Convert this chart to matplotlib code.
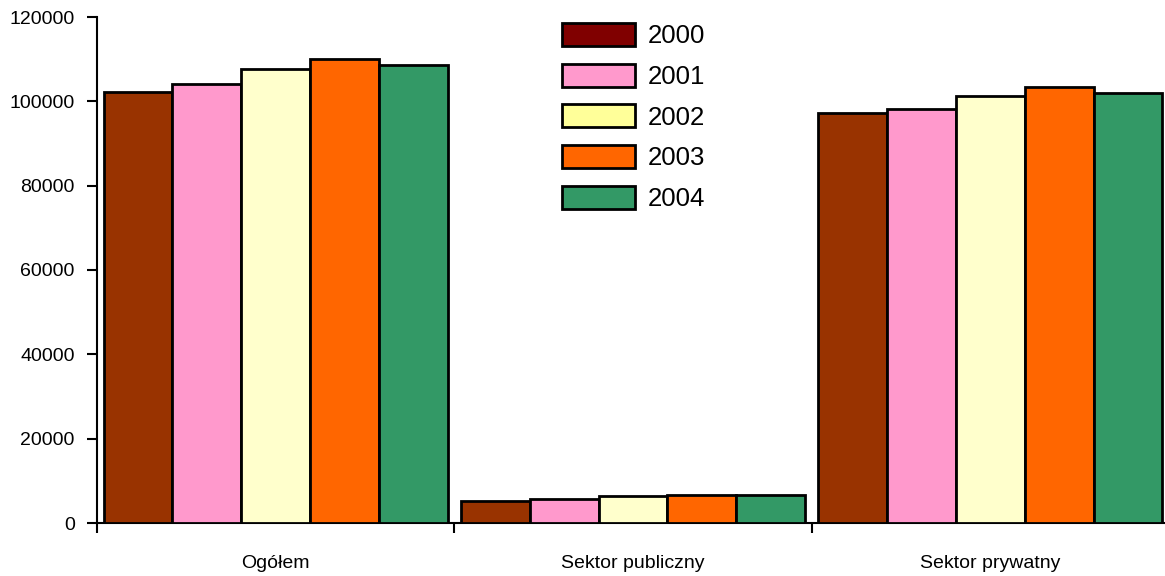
import matplotlib
matplotlib.use("Agg")
import matplotlib.pyplot as plt
from matplotlib.patches import Patch
import numpy as np

plt.rcParams['font.family'] = ['Liberation Sans', 'DejaVu Sans']

kategorie = ['Ogółem', 'Sektor publiczny', 'Sektor prywatny']
lata = ['2000', '2001', '2002', '2003', '2004']
wartosci = [
    [102300, 5150, 97200],   # 2000
    [104100, 5600, 98300],   # 2001
    [107600, 6400, 101200],  # 2002
    [110000, 6600, 103500],  # 2003
    [108600, 6600, 101900],  # 2004
]
kolory_slupkow = ['#993300', '#FF99CC', '#FFFFCC', '#FF6600', '#339966']
kolory_legendy = ['#800000', '#FF99CC', '#FFFF99', '#FF6600', '#339966']

W, H = 1165, 576
fig = plt.figure(figsize=(W / 100, H / 100), dpi=100)
ax = fig.add_axes([97 / W, 53 / H, 1072 / W, 506 / H])

x = np.arange(len(kategorie))
szer_grupy = 0.963
szer = szer_grupy / len(lata)
for i, (rok, vals) in enumerate(zip(lata, wartosci)):
    pos = x - szer_grupy / 2 + szer * (i + 0.5)
    ax.bar(pos, vals, width=szer, color=kolory_slupkow[i],
           edgecolor='black', linewidth=2, zorder=3)

ax.set_xlim(-0.5, 2.5)
ax.set_ylim(0, 120000)
ax.set_yticks(np.arange(0, 120001, 20000))
ax.set_yticklabels([str(v) for v in range(0, 120001, 20000)], fontsize=14)

ax.set_xticks([-0.5, 0.5, 1.5, 2.5])
ax.set_xticklabels([])
ax.set_xticks(x, minor=True)
ax.set_xticklabels(kategorie, minor=True, fontsize=14)
ax.tick_params(axis='x', which='minor', length=0, pad=23)
ax.tick_params(axis='x', which='major', length=7, width=1.5, direction='out')
ax.tick_params(axis='y', length=7, width=1.5, direction='out', pad=9)

for s in ['top', 'right']:
    ax.spines[s].set_visible(False)
for s in ['left', 'bottom']:
    ax.spines[s].set_linewidth(1.5)

uchwyty = [Patch(facecolor=c, edgecolor='black', linewidth=2, label=r)
           for c, r in zip(kolory_legendy, lata)]
fig.legend(handles=uchwyty, loc='upper left',
           bbox_to_anchor=(562 / W, 1 - 23 / H), frameon=False,
           fontsize=18.5, handlelength=2.85, handleheight=1.0,
           handletextpad=0.5, labelspacing=0.6,
           borderpad=0, borderaxespad=0)

fig.savefig('out.png', dpi=100)
